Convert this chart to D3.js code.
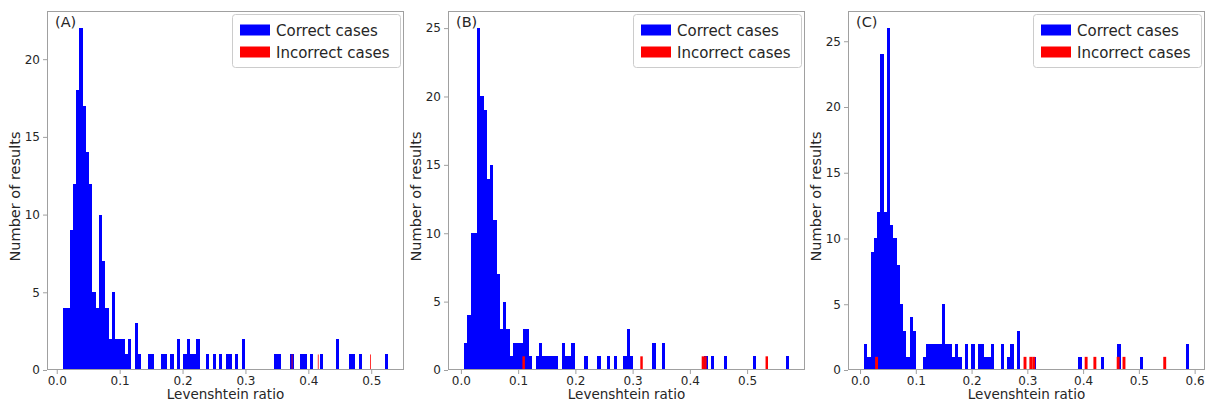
<!DOCTYPE html>
<html><head><meta charset="utf-8">
<script src="https://cdn.jsdelivr.net/npm/d3@7"></script>
<style>body{margin:0;background:#fff}svg text{font-family:"DejaVu Sans",sans-serif;fill:#262626}</style>
</head><body><svg id="c" width="1206" height="402"></svg>
<script>
// ---------- data ----------
const panelLabels = ["(A)", "(B)", "(C)"];
const legendLabels = ["Correct cases", "Incorrect cases"];
const xAxisTitle = "Levenshtein ratio";
const yAxisTitle = "Number of results";

const xTicksA = [0, 0.1, 0.2, 0.3, 0.4, 0.5];
const xTicksB = [0, 0.1, 0.2, 0.3, 0.4, 0.5];
const xTicksC = [0, 0.1, 0.2, 0.3, 0.4, 0.5, 0.6];
const yTicksA = [0, 5, 10, 15, 20];
const yTicksB = [0, 5, 10, 15, 20, 25];
const yTicksC = [0, 5, 10, 15, 20, 25];

// correct cases: 100 equal bins starting at start, of given width
const correctStartA = 0.0103, correctWidthA = 0.00516;
const correctCountsA = [
 4,4,9,12,18,22,17,14,12,5,
 4,10,7,4,2,5,2,2,2,1,
 2,0,3,1,0,0,1,1,0,0,
 1,1,0,1,0,2,0,1,2,1,
 1,2,0,0,1,0,1,0,1,0,
 1,1,0,1,0,2,0,0,0,0,
 0,0,0,0,0,1,1,0,0,0,
 1,0,0,1,1,0,1,0,0,1,
 0,0,0,0,2,0,0,0,1,1,
 0,1,0,0,0,0,0,0,0,1];
const correctStartB = 0.0058, correctWidthB = 0.00567;
const correctCountsB = [
 2,4,10,10,25,20,19,14,15,11,
 7,3,5,3,1,2,2,2,3,3,
 1,0,1,2,1,1,1,1,1,0,
 2,1,1,2,0,0,0,1,0,0,
 0,1,0,0,1,0,1,0,0,1,
 3,1,0,0,0,0,0,0,2,0,
 0,2,0,0,0,0,0,0,0,0,
 0,0,0,0,1,0,1,0,0,0,
 1,0,0,0,0,0,0,0,0,1,
 0,0,0,0,0,0,0,0,0,1];
const correctStartC = 0.0075, correctWidthC = 0.00582;
const correctCountsC = [
 2,1,9,10,12,24,12,26,11,10,
 8,5,3,1,4,3,0,0,1,2,
 2,2,2,2,5,2,2,1,2,1,
 0,2,0,2,0,2,2,1,1,2,
 0,0,2,0,1,2,0,3,0,0,
 0,0,1,0,0,0,0,0,0,0,
 0,0,0,0,0,0,1,0,0,0,
 0,0,0,1,0,0,0,0,2,0,
 0,0,0,0,0,1,0,0,0,0,
 0,0,0,0,0,0,0,0,0,2];

// incorrect cases: 100 equal bins; only the non-empty bins listed
const incorrectStartA = 0.3735, incorrectWidthA = 0.00126;
const incorrectBinsA = [0, 33, 99];
const incorrectCountsA = [1, 1, 1];
const incorrectStartB = 0.1075, incorrectWidthB = 0.00429;
const incorrectBinsB = [0, 48, 73, 74, 99];
const incorrectCountsB = [1, 1, 1, 1, 1];
const incorrectStartC = 0.027, incorrectWidthC = 0.00522;
const incorrectBinsC = [0, 51, 53, 54, 72, 75, 83, 85, 99];
const incorrectCountsC = [1, 1, 1, 1, 1, 1, 1, 1, 1];

// ---------- layout ----------
const panels = [
  {L: 47, R: 404, label: panelLabels[0], xt: xTicksA, yt: yTicksA,
   cs: correctStartA, cw: correctWidthA, cc: correctCountsA,
   is: incorrectStartA, iw: incorrectWidthA, ib: incorrectBinsA, ic: incorrectCountsA},
  {L: 448, R: 805, label: panelLabels[1], xt: xTicksB, yt: yTicksB,
   cs: correctStartB, cw: correctWidthB, cc: correctCountsB,
   is: incorrectStartB, iw: incorrectWidthB, ib: incorrectBinsB, ic: incorrectCountsB},
  {L: 848, R: 1205, label: panelLabels[2], xt: xTicksC, yt: yTicksC,
   cs: correctStartC, cw: correctWidthC, cc: correctCountsC,
   is: incorrectStartC, iw: incorrectWidthC, ib: incorrectBinsC, ic: incorrectCountsC}
];
const T = 11, B = 370;
const BLUE = "#0000ff", RED = "#ff0000", SPINE = "#a0a0a0";

const svg = d3.select("#c");

panels.forEach(p => {
  const n = p.cc.length;
  const xmin = Math.min(p.cs, p.is);
  const xmax = Math.max(p.cs + n * p.cw, p.is + 100 * p.iw);
  const pad = 0.05 * (xmax - xmin);
  const x = d3.scaleLinear().domain([xmin - pad, xmax + pad]).range([p.L, p.R]);
  const ymax = d3.max(p.cc) * 1.05;
  const y = d3.scaleLinear().domain([0, ymax]).range([B, T]);

  const g = svg.append("g");
  const cdata = p.cc.map((c, i) => ({x0: p.cs + i * p.cw, x1: p.cs + (i + 1) * p.cw, c})).filter(d => d.c > 0);
  g.selectAll("rect.cor").data(cdata).join("rect").attr("class", "cor")
    .attr("x", d => x(d.x0)).attr("width", d => x(d.x1) - x(d.x0))
    .attr("y", d => y(d.c)).attr("height", d => y(0) - y(d.c))
    .attr("fill", BLUE).attr("shape-rendering", "crispEdges");
  const idata = p.ib.map((b, k) => ({x0: p.is + b * p.iw, x1: p.is + (b + 1) * p.iw, c: p.ic[k]}));
  g.selectAll("rect.inc").data(idata).join("rect").attr("class", "inc")
    .attr("x", d => x(d.x0)).attr("width", d => x(d.x1) - x(d.x0))
    .attr("y", d => y(d.c)).attr("height", d => y(0) - y(d.c))
    .attr("fill", RED);

  // axes
  const xa = g.append("g").attr("transform", `translate(0,${B})`)
    .call(d3.axisBottom(x).tickValues(p.xt).tickFormat(d3.format(".1f")).tickSize(4).tickPadding(2));
  const ya = g.append("g").attr("transform", `translate(${p.L},0)`)
    .call(d3.axisLeft(y).tickValues(p.yt).tickFormat(d3.format("d")).tickSize(4).tickPadding(3));
  [xa, ya].forEach(a => {
    a.select(".domain").remove();
    a.selectAll("line").attr("stroke", SPINE);
    a.selectAll("text").attr("font-size", 12).attr("fill", "#262626")
      .attr("font-family", "DejaVu Sans");
  });

  // frame
  g.append("rect").attr("x", p.L + 0.5).attr("y", T + 0.5)
    .attr("width", p.R - p.L - 1).attr("height", B - T - 1)
    .attr("fill", "none").attr("stroke", SPINE).attr("stroke-width", 1);

  // titles
  g.append("text").attr("x", (p.L + p.R) / 2).attr("y", 399)
    .attr("text-anchor", "middle").attr("font-size", 13.5).text(xAxisTitle);
  g.append("text").attr("transform", `translate(${p.L - 27},${(T + B) / 2 + 6}) rotate(-90)`)
    .attr("text-anchor", "middle").attr("font-size", 14.5).text(yAxisTitle);
  g.append("text").attr("x", p.L + 8).attr("y", 27).attr("font-size", 14.5).text(p.label);

  // legend
  const lw = 168, lh = 53, lx = p.R - 4 - lw, ly = 14;
  const lg = g.append("g");
  lg.append("rect").attr("x", lx + 0.5).attr("y", ly + 0.5).attr("width", lw).attr("height", lh)
    .attr("rx", 3).attr("fill", "#fff").attr("fill-opacity", 0.8).attr("stroke", "#cccccc");
  [BLUE, RED].forEach((col, k) => {
    const cy = ly + 16 + k * 22;
    lg.append("rect").attr("x", lx + 8).attr("y", cy - 5.5).attr("width", 30).attr("height", 11).attr("fill", col);
    lg.append("text").attr("x", lx + 44).attr("y", cy + 5.5).attr("font-size", 15).text(legendLabels[k]);
  });
});
</script></body></html>
